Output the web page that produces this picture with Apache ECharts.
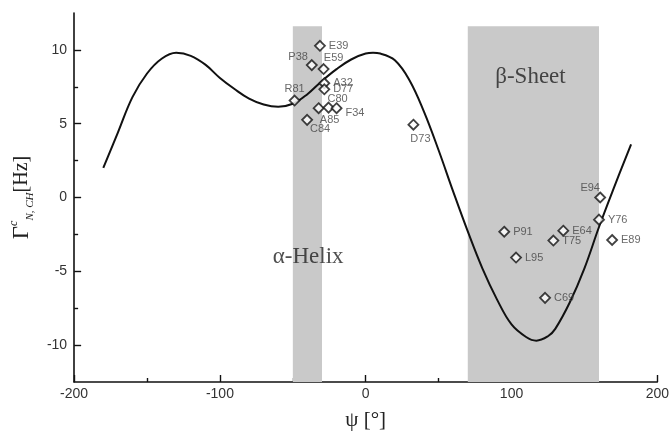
<!DOCTYPE html>
<html>
<head>
<meta charset="utf-8">
<script src="https://cdn.jsdelivr.net/npm/echarts@6/dist/echarts.min.js"></script>
<style>
  html, body { margin: 0; padding: 0; background: #fff; }
  #main { width: 672px; height: 437px; }
</style>
</head>
<body>
<div id="main"></div>
<script>
// residues and their measured couplings
var residues = ['E39', 'P38', 'E59', 'A32', 'D77', 'R81', 'A85', 'C80', 'F34', 'C84',
                'D73', 'E94', 'Y76', 'P91', 'E64', 'T75', 'E89', 'L95', 'C69'];
var psiVals = [-31.4, -37, -28.9, -28.4, -28.4, -48.8, -32.3, -25.5, -20, -40.2,
               32.7, 160.8, 160, 95, 135.5, 128.7, 169, 103.1, 123];
var gammaVals = [10.28, 8.97, 8.7, 7.74, 7.33, 6.57, 6.05, 6.09, 6.05, 5.26,
                 4.93, 0.0, -1.5, -2.32, -2.25, -2.92, -2.88, -4.07, -6.8];

// theoretical curve
var curvePsi = [-180, -170, -160, -150, -140, -130, -120, -110, -100, -90, -80, -70, -60, -50,
                -40, -30, -20, -10, 0, 5, 10, 20, 30, 40, 50, 60, 70, 80, 90, 100, 110, 117,
                125, 130, 140, 150, 160, 170, 182];
var curveGamma = [2.0, 4.4, 6.8, 8.4, 9.4, 9.8, 9.6, 9.0, 8.1, 7.35, 6.7, 6.3, 6.15, 6.35,
                  7.0, 7.9, 8.7, 9.35, 9.75, 9.8, 9.75, 9.3, 7.95, 5.8, 3.2, 0.4, -2.3, -4.8,
                  -6.9, -8.6, -9.45, -9.7, -9.4, -8.9, -7.1, -4.8, -2.0, 0.6, 3.6];

// secondary structure regions
var helixRange = [-50, -30];
var sheetRange = [70, 160];
var bandTop = 11.6;

var yTicks = [-10, -5, 0, 5, 10];
var yMinorTicks = [-7.5, -2.5, 2.5, 7.5];

// label placement per residue: [position, dx, dy]
var labelPlace = {
  P38: ['left', 2, -8], E59: ['top', 10, 0], R81: ['top', 0, 0],
  A85: ['bottom', 11, 0], C80: ['top', 9, 3], F34: ['right', 0, 5],
  C84: ['bottom', 13, -2], D73: ['bottom', 7, 3], E94: ['top', -10, 2]
};

var chart = echarts.init(document.getElementById('main'));

var serif = '"Liberation Serif", "DejaVu Serif", serif';
var sans = '"Liberation Sans", Arial, sans-serif';
var tickStyle = { color: '#111', width: 1.4 };

var points = residues.map(function (n, i) {
  var p = labelPlace[n] || ['right', 0, 0];
  return {
    name: n,
    value: [psiVals[i], gammaVals[i]],
    label: { position: p[0], offset: [p[1], p[2]], distance: p[0] === 'right' ? 3 : 0 }
  };
});

var curve = curvePsi.map(function (x, i) { return [x, curveGamma[i]]; });

// extra y axes only carry tick marks
function tickAxis(values, len) {
  return {
    type: 'value', min: -12.5, max: 12.5, position: 'left',
    axisLine: { show: false, onZero: false },
    axisTick: { show: true, inside: true, length: len, customValues: values, lineStyle: tickStyle },
    axisLabel: { show: false },
    splitLine: { show: false }
  };
}

var option = {
  backgroundColor: '#fff',
  animation: false,
  grid: { left: 74, right: 9, top: 13, bottom: 55 },
  xAxis: {
    type: 'value', min: -200, max: 200, interval: 100,
    name: 'ψ [°]', nameLocation: 'middle', nameGap: 28,
    nameTextStyle: { fontFamily: serif, fontSize: 21, color: '#222' },
    axisLine: { onZero: false, lineStyle: { color: '#111', width: 1.6 } },
    axisTick: { inside: true, length: 7, lineStyle: tickStyle },
    minorTick: { show: true, splitNumber: 2, length: 4, lineStyle: tickStyle },
    axisLabel: { fontFamily: sans, fontSize: 14, color: '#333', margin: 5 },
    splitLine: { show: false }
  },
  yAxis: [{
    type: 'value', min: -12.5, max: 12.5,
    name: '{g|Γ}{sup|c}{sub|N, CH}{u|[Hz]}',
    nameLocation: 'middle', nameGap: 38, nameRotate: 90,
    nameTextStyle: {
      rich: {
        g: { fontFamily: serif, fontSize: 23, color: '#222', lineHeight: 28 },
        sup: { fontFamily: serif, fontSize: 12, fontStyle: 'italic', color: '#222', verticalAlign: 'top', padding: [0, 0, 12, 0] },
        sub: { fontFamily: serif, fontSize: 11, fontStyle: 'italic', color: '#222', verticalAlign: 'bottom', padding: [8, 0, 0, 0] },
        u: { fontFamily: serif, fontSize: 20, color: '#222' }
      }
    },
    axisLine: { onZero: false, lineStyle: { color: '#111', width: 1.6 } },
    axisTick: { show: false },
    axisLabel: { fontFamily: sans, fontSize: 14, color: '#333', margin: 7, customValues: yTicks },
    splitLine: { show: false }
  }, tickAxis(yTicks, 7), tickAxis(yMinorTicks, 4)],
  series: [
    {
      // shaded regions
      type: 'line', data: [], z: 1, silent: true,
      markArea: {
        silent: true,
        itemStyle: { color: '#c9c9c9', opacity: 1 },
        data: [
          [{ xAxis: helixRange[0], yAxis: -12.5 }, { xAxis: helixRange[1], yAxis: bandTop }],
          [{ xAxis: sheetRange[0], yAxis: -12.5 }, { xAxis: sheetRange[1], yAxis: bandTop }]
        ]
      }
    },
    {
      type: 'line', data: curve, smooth: 0.4, showSymbol: false, z: 3,
      lineStyle: { color: '#111', width: 2 }
    },
    {
      type: 'scatter', data: points, z: 4,
      symbol: 'diamond', symbolSize: 10,
      itemStyle: { color: '#fff', borderColor: '#111', borderWidth: 1.8 },
      label: {
        show: true, formatter: '{b}', fontFamily: sans, fontSize: 11, color: '#444'
      }
    },
    {
      // region captions
      type: 'scatter', symbolSize: 0, z: 5, silent: true,
      data: [
        { name: 'α-Helix', value: [-39.5, -4.0] },
        { name: 'β-Sheet', value: [113, 8.2] }
      ],
      label: {
        show: true, position: 'inside', formatter: '{b}',
        fontFamily: serif, fontSize: 23, color: '#222'
      }
    }
  ]
};

chart.setOption(option);
</script>
</body>
</html>
